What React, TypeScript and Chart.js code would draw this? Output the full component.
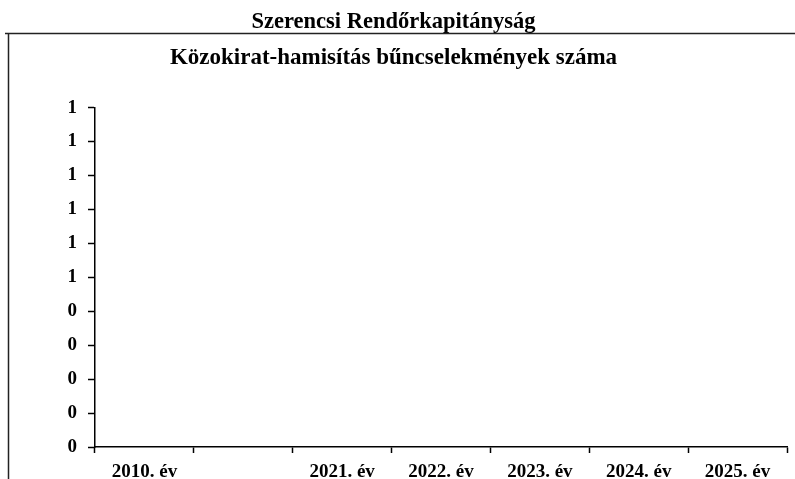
import React, { useEffect, useRef } from "react";
import { Chart, registerables } from "chart.js";

Chart.register(...registerables);

const pageTitle = "Szerencsi Rendőrkapitányság";
const chartTitle = "Közokirat-hamisítás bűncselekmények száma";
const categories = ["2010. év", "", "2021. év", "2022. év", "2023. év", "2024. év", "2025. év"];
const counts = [0, 0, 0, 0, 0, 0, 0];
const yMin = 0;
const yMax = 1;
const yStep = 0.1;

const FONT = "'Liberation Serif', 'Times New Roman', serif";

const framePlugin = {
  id: "frame",
  afterDraw(chart: any) {
    const ctx = chart.ctx;
    ctx.save();
    ctx.strokeStyle = "#222";
    ctx.lineWidth = 1.5;
    ctx.beginPath();
    ctx.moveTo(5, 33.5);
    ctx.lineTo(795, 33.5);
    ctx.moveTo(8.5, 33.5);
    ctx.lineTo(8.5, 479);
    ctx.stroke();
    ctx.restore();
  },
};

export default function App() {
  const ref = useRef<HTMLCanvasElement | null>(null);
  useEffect(() => {
    if (!ref.current) return;
    const chart = new Chart(ref.current, {
      type: "bar",
      data: {
        labels: categories,
        datasets: [
          {
            data: counts,
            backgroundColor: "#000",
            borderColor: "#000",
            borderWidth: 0,
          },
        ],
      },
      options: {
        animation: false,
        responsive: false,
        maintainAspectRatio: false,
        layout: { padding: { left: 0, right: 8, top: 0, bottom: 0 } },
        plugins: {
          legend: { display: false },
          tooltip: { enabled: false },
          title: {
            display: true,
            text: pageTitle,
            color: "#000",
            font: { family: FONT, size: 22.5, weight: "bold", lineHeight: 1.2 },
            padding: { top: 9, bottom: 4 },
          },
          subtitle: {
            display: true,
            text: chartTitle,
            color: "#000",
            font: { family: FONT, size: 23, weight: "bold", lineHeight: 1.2 },
            padding: { top: 4, bottom: 36 },
          },
        },
        scales: {
          x: {
            type: "category",
            offset: true,
            afterFit(scale: any) {
              scale.height = 32;
            },
            grid: {
              display: true,
              offset: true,
              drawOnChartArea: false,
              drawTicks: true,
              tickLength: 6,
              tickWidth: 1.5,
              tickColor: "#000",
              color: "#000",
            },
            border: { display: true, color: "#000", width: 1.5 },
            ticks: {
              color: "#000",
              padding: 10,
              maxRotation: 0,
              autoSkip: false,
              font: { family: FONT, size: 19, weight: "bold", lineHeight: 1 },
            },
          },
          y: {
            min: yMin,
            max: yMax,
            afterFit(scale: any) {
              scale.width = 95;
            },
            grid: {
              display: true,
              drawOnChartArea: false,
              drawTicks: true,
              tickLength: 7,
              tickWidth: 1.5,
              tickColor: "#000",
              color: "#000",
            },
            border: { display: true, color: "#000", width: 1.5 },
            ticks: {
              stepSize: yStep,
              color: "#000",
              padding: 11,
              font: { family: FONT, size: 19, weight: "bold", lineHeight: 1 },
              callback: (v: any) => String(Math.round(Number(v))),
            },
          },
        },
      },
      plugins: [framePlugin],
    });
    return () => chart.destroy();
  }, []);
  return (
    <div style={{ position: "fixed", left: 0, top: 0, width: 795, height: 479, background: "#fff" }}>
      <canvas ref={ref} width={795} height={479} style={{ display: "block" }} />
    </div>
  );
}
